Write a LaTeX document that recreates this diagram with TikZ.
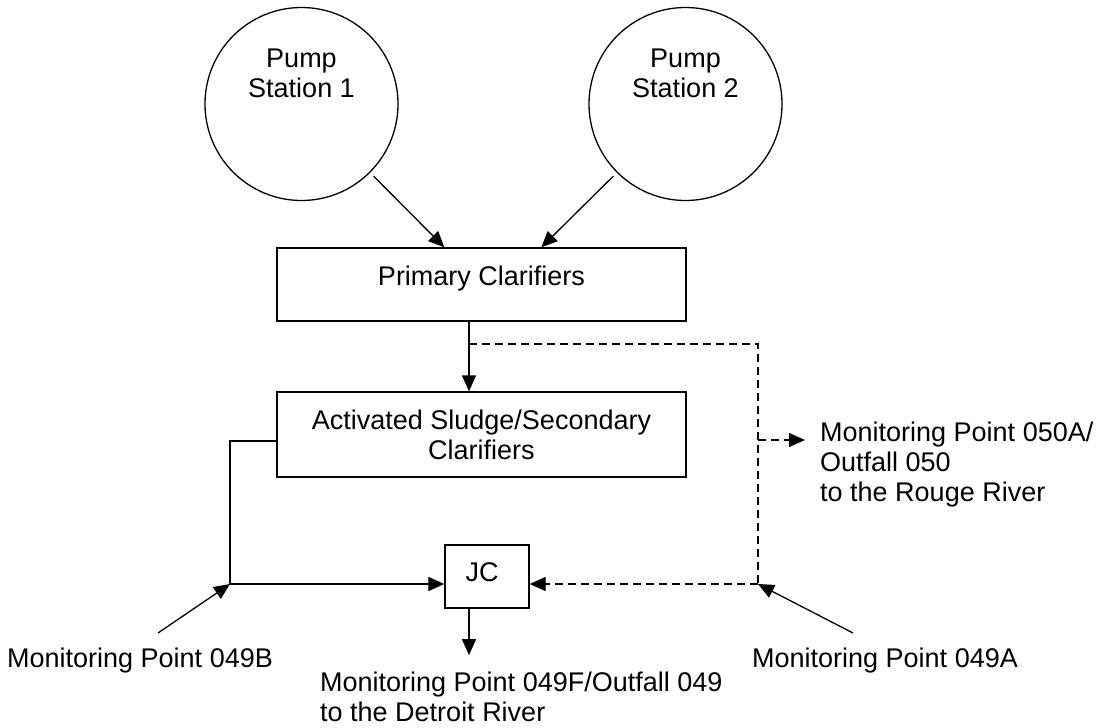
\documentclass[tikz,border=0pt]{standalone}
\usepackage{fontspec}
\setmainfont{Liberation Sans}
\usetikzlibrary{arrows.meta}
\begin{document}
\begin{tikzpicture}[x=1pt,y=-1pt,
  every node/.style={font=\fontsize{27}{30}\selectfont},
  ln/.style={line width=1.3pt},
  tip/.style={-{Triangle[length=16pt,width=14pt]}},
  arr/.style={ln,tip},
  dsh/.style={ln,dash pattern=on 8pt off 5pt},
  stn/.style={circle,draw,line width=1.3pt,minimum size=193pt,inner sep=0pt},
  box/.style={rectangle,draw,line width=1.3pt,inner sep=0pt},
  txt/.style={inner sep=0pt,align=left}]
\useasboundingbox (0,0) rectangle (1096,728);

% pump stations
\node[stn,label={[yshift=31pt,align=center]center:Pump\\Station 1}] (ps1) at (301.5,104) {};
\node[stn,label={[yshift=31pt,align=center]center:Pump\\Station 2}] (ps2) at (685.5,104) {};

% boxes
\node[box,minimum width=409pt,minimum height=73pt,
      label={[yshift=6pt]center:Primary Clarifiers}] (pc) at (481.5,284.5) {};
\node[box,minimum width=409pt,minimum height=85pt,align=center] (as) at (481.5,434.5)
      {Activated Sludge/Secondary\\Clarifiers};
\node[box,minimum width=84pt,minimum height=63pt,
      label={[shift={(-5pt,4.3pt)}]center:JC}] (jc) at (487,576.5) {};

% texts
\node[txt,anchor=west] (t49b) at (7,660.6) {Monitoring Point 049B};
\node[txt,anchor=west] (t49a) at (752,660.6) {Monitoring Point 049A};
\node[txt,anchor=north west] (t49f) at (320,672.2) {Monitoring Point 049F/Outfall 049\\to the Detroit River};
\node[txt,anchor=north west] (t050) at (820,421.7) {Monitoring Point 050A/\\Outfall 050\\to the Rouge River};

% helper coordinates
\coordinate (c1) at (469,344);
\coordinate (c2) at (758,344);
\coordinate (c3) at (758,584);
\coordinate (c4) at (758,440);
\coordinate (c5) at (230,441);
\coordinate (c6) at (230,584);
\coordinate (s49b) at (158,633);
\coordinate (s49a) at (853,633);

% connectors
\draw[arr,shorten <=5pt] (ps1.-45) -- ([xshift=168pt]pc.north west);
\draw[arr,shorten <=5pt] (ps2.-135) -- ([xshift=265pt]pc.north west);
\draw[arr] (pc.south -| c1) -- (as.north -| c1);
\draw[dsh] (c1) -- (c2) -- (c3);
\draw[dsh,tip] (c3) -- (jc.east |- c3);
\draw[dsh,tip,shorten >=15pt] (c4) -- (t050.west |- c4);
\draw[arr] (as.west |- c5) -- (c5) -- (c6) -- (jc.west |- c6);
\draw[arr,shorten >=17pt] (jc.south -| c1) -- (t49f.north -| c1);
\draw[arr] (s49b) -- (c6);
\draw[arr] (s49a) -- (c3);
\end{tikzpicture}
\end{document}
